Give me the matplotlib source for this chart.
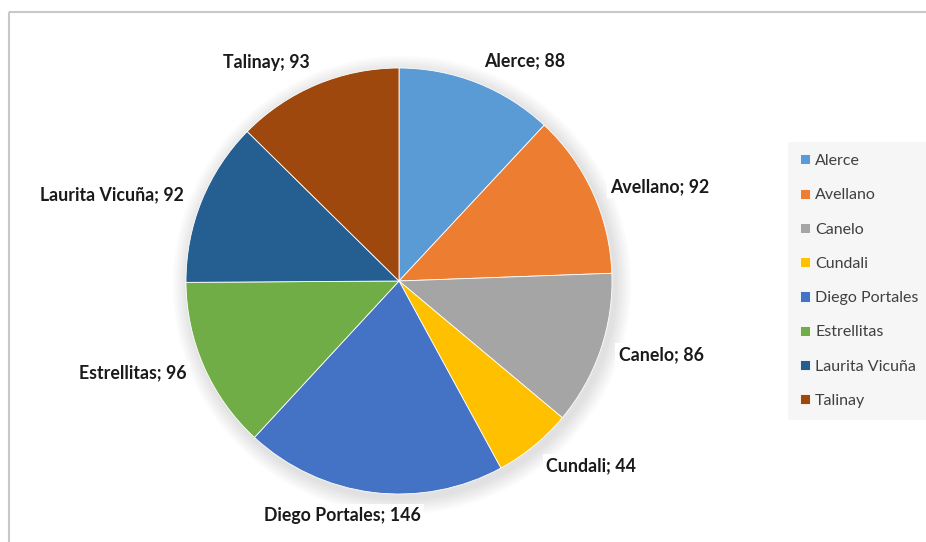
import numpy as np
import matplotlib
matplotlib.use("Agg")
import matplotlib.pyplot as plt
from matplotlib.patches import Circle

# Data
schools = ["Alerce", "Avellano", "Canelo", "Cundali", "Diego Portales",
           "Estrellitas", "Laurita Vicuña", "Talinay"]
counts = [88, 92, 86, 44, 146, 96, 92, 93]
colors = ["#5B9BD5", "#ED7D31", "#A5A5A5", "#FFC000", "#4472C4",
          "#70AD47", "#255E91", "#9E480E"]

plt.rcParams['font.family'] = ['Lato', 'DejaVu Sans']

W, H = 926, 542
fig = plt.figure(figsize=(W / 100, H / 100), dpi=100)
ax = fig.add_axes([0, 0, 1, 1])

cx, cy, R = 399, H - 281, 213

# soft shadow around the pie
for k in range(10):
    ax.add_patch(Circle((cx + 3, cy - 4), R + 2 + k * 1.6, color='black',
                        alpha=0.013, lw=0, zorder=1))

wedges, _ = ax.pie(counts, colors=colors, startangle=90, counterclock=False,
                   center=(cx, cy), radius=R, frame=True,
                   wedgeprops=dict(edgecolor='white', linewidth=0.6, zorder=2))
ax.set_xlim(0, W)
ax.set_ylim(0, H)
ax.set_aspect('equal')
ax.axis('off')

# data labels outside the pie
total = sum(counts)
start = 0
for name, v in zip(schools, counts):
    mid = 90 - (start + v / 2) / total * 360
    start += v
    a = np.deg2rad(mid)
    c, s = np.cos(a), np.sin(a)
    x = cx + R * 1.09 * c
    y = cy + R * 1.07 * s
    ha = 'left' if c > 0.3 else ('right' if c < -0.3 else 'center')
    if ha == 'center':
        x -= 28
    va = 'bottom' if s > 0.7 else ('top' if s < -0.7 else 'center')
    ax.text(x, y, f"{name}; {v}", ha=ha, va=va, fontsize=12.8,
            fontweight='bold', color='#1a1a1a', zorder=5,
            bbox=dict(facecolor='white', edgecolor='none', pad=2.5))

# chart border (top and left visible)
ax.plot([8.5, W], [H - 11.5, H - 11.5], color='#c8c8c8', lw=1.5,
        solid_capstyle='butt', zorder=0)
ax.plot([8.5, 8.5], [0, H - 11.5], color='#c8c8c8', lw=1.5,
        solid_capstyle='butt', zorder=0)

leg = ax.legend(wedges, schools, loc='upper left',
                bbox_to_anchor=(788 / W, 1 - 142 / H), fontsize=11.5,
                frameon=True, fancybox=False, handlelength=0.6,
                handleheight=0.6, handletextpad=0.35, labelspacing=1.27,
                borderpad=0.75, borderaxespad=0)
leg.get_frame().set_facecolor('#f4f4f4')
leg.get_frame().set_edgecolor('none')
for t in leg.get_texts():
    t.set_color('#404040')

fig.savefig("out.png", dpi=100)
